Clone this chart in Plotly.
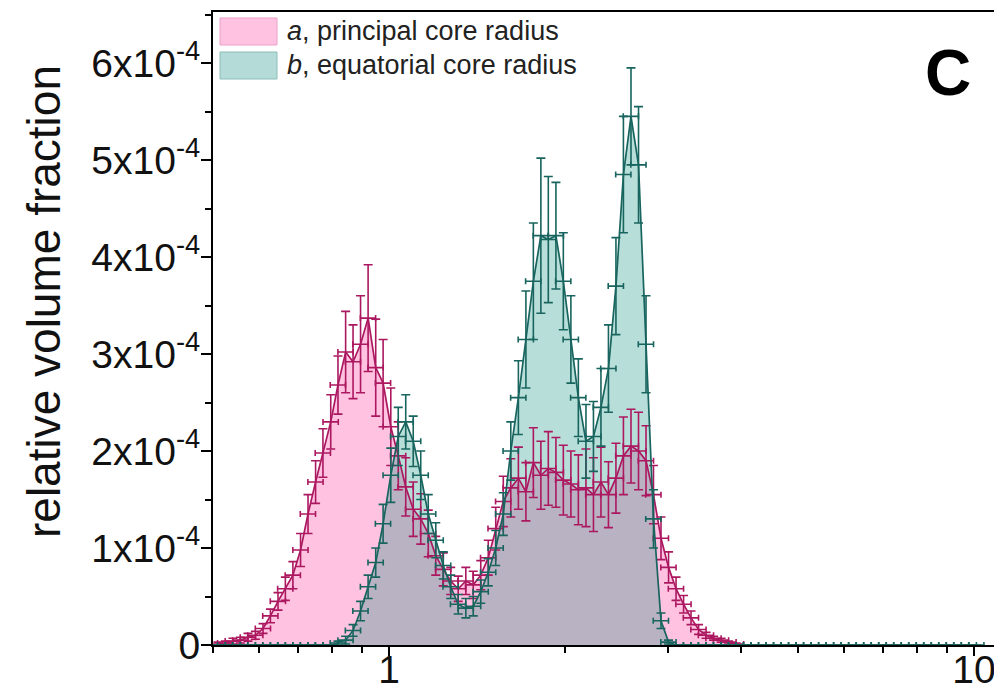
import plotly.graph_objects as go

# ---------------- data (y values in units of 1e-4) ----------------
x_bins = [0.510, 0.525, 0.541, 0.557, 0.574, 0.591, 0.609, 0.627, 0.646, 0.665,
          0.685, 0.706, 0.727, 0.749, 0.771, 0.795, 0.818, 0.843, 0.868, 0.894,
          0.921, 0.949, 0.977, 1.007, 1.037, 1.068, 1.100, 1.133, 1.167, 1.202,
          1.238, 1.275, 1.313, 1.353, 1.393, 1.435, 1.478, 1.522, 1.568, 1.615,
          1.664, 1.714, 1.765, 1.818, 1.872, 1.929, 1.986, 2.046, 2.107, 2.171,
          2.236, 2.303, 2.372, 2.443, 2.516, 2.592, 2.670, 2.750, 2.832, 2.917,
          3.005, 3.095, 3.188, 3.283, 3.382, 3.483, 3.588, 3.696, 3.806, 3.921,
          4.038, 4.159, 4.284, 4.413, 4.545, 4.681, 4.822, 4.966, 5.115, 5.269,
          5.427, 5.590, 5.757, 5.930, 6.108, 6.291, 6.480, 6.675, 6.875, 7.081,
          7.293, 7.512, 7.738, 7.970, 8.209, 8.455, 8.709, 8.970, 9.239, 9.516,
          9.802, 10.096]

# a, principal core radius (first 70 bins)
y_a = [0.01, 0.02, 0.04, 0.05, 0.08, 0.10, 0.17, 0.30, 0.45, 0.58,
       0.72, 0.98, 1.35, 1.68, 1.98, 2.30, 2.68, 3.02, 2.92, 3.10,
       3.37, 2.86, 2.70, 2.25, 1.95, 1.63, 1.40, 1.30, 1.15, 0.92,
       0.78, 0.66, 0.58, 0.66, 0.62, 0.72, 0.90, 1.20, 1.48, 1.62,
       1.72, 1.58, 1.88, 1.75, 1.82, 1.78, 1.70, 1.66, 1.60, 1.62,
       1.55, 1.68, 1.55, 1.72, 1.95, 2.05, 2.00, 1.90, 1.55, 1.10,
       0.80, 0.58, 0.42, 0.28, 0.16, 0.10, 0.07, 0.05, 0.03, 0.01]
err_a = [0.02, 0.02, 0.03, 0.03, 0.04, 0.04, 0.05, 0.07, 0.09, 0.12,
         0.14, 0.17, 0.20, 0.22, 0.25, 0.28, 0.30, 0.42, 0.38, 0.50,
         0.55, 0.50, 0.45, 0.40, 0.35, 0.30, 0.28, 0.26, 0.24, 0.20,
         0.17, 0.14, 0.13, 0.14, 0.14, 0.15, 0.18, 0.22, 0.26, 0.30,
         0.32, 0.30, 0.36, 0.35, 0.38, 0.36, 0.36, 0.34, 0.36, 0.40,
         0.38, 0.36, 0.34, 0.36, 0.40, 0.38, 0.40, 0.36, 0.30, 0.22,
         0.16, 0.12, 0.09, 0.07, 0.05, 0.03, 0.02, 0.02, 0.01, 0.01]

# b, equatorial core radius (all 102 bins)
y_b = [0.00, 0.00, 0.00, 0.00, 0.00, 0.00, 0.00, 0.00, 0.00, 0.00,
       0.00, 0.00, 0.00, 0.00, 0.00, 0.00, 0.02, 0.05, 0.15, 0.35,
       0.60, 0.85, 1.25, 1.75, 2.15, 2.30, 2.10, 1.75, 1.35, 1.08,
       0.82, 0.60, 0.42, 0.38, 0.40, 0.55, 0.75, 1.00, 1.35, 2.00,
       2.55, 3.15, 3.75, 4.22, 4.18, 4.22, 3.75, 3.15, 2.55, 2.10,
       2.15, 2.45, 2.85, 3.70, 4.85, 5.45, 4.95, 3.10, 1.30, 0.25,
       0.03, 0.00, 0.00, 0.00, 0.00, 0.00, 0.00, 0.00, 0.00, 0.00,
       0.00, 0.00, 0.00, 0.00, 0.00, 0.00, 0.00, 0.00, 0.00, 0.00,
       0.00, 0.00, 0.00, 0.00, 0.00, 0.00, 0.00, 0.00, 0.00, 0.00,
       0.00, 0.00, 0.00, 0.00, 0.00, 0.00, 0.00, 0.00, 0.00, 0.00,
       0.00, 0.00]
err_b = [0.00, 0.00, 0.00, 0.00, 0.00, 0.00, 0.00, 0.00, 0.00, 0.00,
         0.00, 0.00, 0.00, 0.00, 0.00, 0.00, 0.02, 0.04, 0.06, 0.10,
         0.12, 0.15, 0.20, 0.28, 0.30, 0.28, 0.26, 0.25, 0.20, 0.18,
         0.14, 0.12, 0.10, 0.10, 0.10, 0.12, 0.14, 0.18, 0.22, 0.30,
         0.38, 0.50, 0.60, 0.80, 0.65, 0.55, 0.50, 0.45, 0.40, 0.38,
         0.36, 0.40, 0.45, 0.50, 0.60, 0.50, 0.60, 0.50, 0.30, 0.08,
         0.02, 0.00, 0.00, 0.00, 0.00, 0.00, 0.00, 0.00, 0.00, 0.00,
         0.00, 0.00, 0.00, 0.00, 0.00, 0.00, 0.00, 0.00, 0.00, 0.00,
         0.00, 0.00, 0.00, 0.00, 0.00, 0.00, 0.00, 0.00, 0.00, 0.00,
         0.00, 0.00, 0.00, 0.00, 0.00, 0.00, 0.00, 0.00, 0.00, 0.00,
         0.00, 0.00]

x_a = x_bins[:len(y_a)]
x_b = x_bins[:len(y_b)]

y_tickvals = [0, 1, 2, 3, 4, 5, 6]
y_ticktext = ["0", "1x10<sup>-4</sup>", "2x10<sup>-4</sup>", "3x10<sup>-4</sup>",
              "4x10<sup>-4</sup>", "5x10<sup>-4</sup>", "6x10<sup>-4</sup>"]
x_tickvals = [1, 10]
x_ticktext = ["1", "10"]
x_minor = [0.5, 0.6, 0.7, 0.8, 0.9, 2, 3, 4, 5, 6, 7, 8, 9]

legend_a = "<i>a</i>, principal core radius"
legend_b = "<i>b</i>, equatorial core radius"
y_title = "relative volume fraction"
panel = "C"

# ---------------- styling ----------------
FONT = "Liberation Sans, Arial, Helvetica, sans-serif"
PINK_LINE = "rgb(172,24,96)"
TEAL_LINE = "rgb(24,100,94)"
PINK_FILL = "rgb(255,195,225)"
TEAL_FILL = "rgba(0,135,120,0.28)"

# figure is a little wider than the window so the right edge of the plot
# sits exactly at the window edge (994 px) like in the reference
W, H = 1000, 697
L, R, T, B = 213, 6, 12, 52
PW, PH = W - L - R, H - T - B


def px(x):
    return (x - L) / PW


def py(y):
    return (H - B - y) / PH


fig = go.Figure()
fig.add_trace(go.Scatter(x=x_a, y=y_a, mode="none", fill="tozeroy",
                         fillcolor=PINK_FILL, hoverinfo="skip", showlegend=False))
fig.add_trace(go.Scatter(x=x_b, y=y_b, mode="none", fill="tozeroy",
                         fillcolor=TEAL_FILL, hoverinfo="skip", showlegend=False))
fig.add_trace(go.Scatter(
    x=x_a, y=y_a, mode="lines", line=dict(color=PINK_LINE, width=1.7),
    error_y=dict(type="data", array=err_a, color=PINK_LINE, thickness=1.6, width=4.5),
    error_x=dict(type="percent", value=3, color=PINK_LINE, thickness=1.6, width=3),
    showlegend=False))
fig.add_trace(go.Scatter(
    x=x_b, y=y_b, mode="lines", line=dict(color=TEAL_LINE, width=1.7),
    error_y=dict(type="data", array=err_b, color=TEAL_LINE, thickness=1.6, width=4.5),
    error_x=dict(type="percent", value=3, color=TEAL_LINE, thickness=1.6, width=3),
    showlegend=False))

# legend drawn manually
shapes = [
    dict(type="rect", xref="paper", yref="paper", x0=px(220), x1=px(277),
         y0=py(45), y1=py(18), fillcolor=PINK_FILL, line=dict(color="rgb(235,160,200)", width=1)),
    dict(type="rect", xref="paper", yref="paper", x0=px(220), x1=px(277),
         y0=py(79), y1=py(52), fillcolor="rgb(180,219,215)", line=dict(color="rgb(140,190,185)", width=1)),
]
annotations = [
    dict(text=legend_a, xref="paper", yref="paper", x=px(285), y=py(31),
         xanchor="left", yanchor="middle", showarrow=False,
         font=dict(family=FONT, size=27, color="#222")),
    dict(text=legend_b, xref="paper", yref="paper", x=px(285), y=py(65),
         xanchor="left", yanchor="middle", showarrow=False,
         font=dict(family=FONT, size=27, color="#222")),
    dict(text="<b>%s</b>" % panel, xref="paper", yref="paper", x=px(948), y=py(73),
         xanchor="center", yanchor="middle", showarrow=False,
         font=dict(family=FONT, size=64, color="black")),
    dict(text=y_title, xref="paper", yref="paper", x=px(44), y=py(302),
         xanchor="center", yanchor="middle", showarrow=False, textangle=-90,
         font=dict(family=FONT, size=46, color="#111")),
]

fig.update_layout(
    width=W, height=H,
    margin=dict(l=L, r=R, t=T, b=B, pad=0),
    paper_bgcolor="white", plot_bgcolor="white",
    font=dict(family=FONT, color="#111"),
    shapes=shapes, annotations=annotations,
    showlegend=False,
    xaxis=dict(type="log", range=[-0.3009, 1.0342],
               tickmode="array", tickvals=x_tickvals, ticktext=x_ticktext,
               ticks="outside", ticklen=9, tickwidth=2, tickcolor="black",
               ticklabeloverflow="allow", ticklabelstandoff=-20,
               showline=True, linewidth=2, linecolor="black", mirror=True,
               showgrid=False, zeroline=False, automargin=False,
               tickfont=dict(family=FONT, size=39, color="#111"),
               minor=dict(tickmode="array", tickvals=x_minor, ticks="outside",
                          ticklen=6, tickwidth=2, tickcolor="black", showgrid=False)),
    yaxis=dict(range=[0, 6.526],
               tickmode="array", tickvals=y_tickvals, ticktext=y_ticktext,
               ticks="outside", ticklen=10, tickwidth=2, tickcolor="black",
               ticklabeloverflow="allow", ticklabelstandoff=-7,
               showline=True, linewidth=2, linecolor="black",
               showgrid=False, zeroline=False, automargin=False,
               tickfont=dict(family=FONT, size=39, color="#111"),
               minor=dict(tick0=0, dtick=0.5, ticks="outside",
                          ticklen=6, tickwidth=2, tickcolor="black", showgrid=False)),
)

fig.write_html("out.html",
               config={"displayModeBar": False},
               post_script="document.body.style.margin='0px';"
                           "document.body.style.overflow='hidden';")
